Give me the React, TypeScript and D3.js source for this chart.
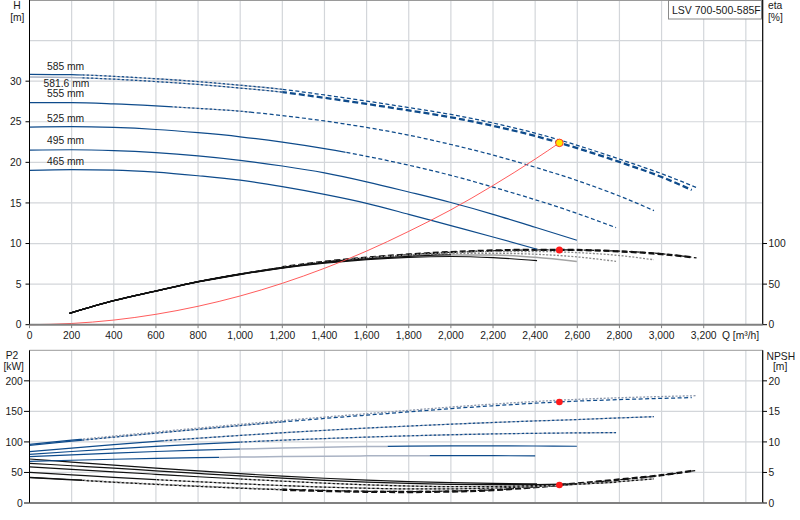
import React from 'react';
import * as d3 from 'd3';

type Pt = [number, number];
type Kind = 'solid' | 'light' | 'dotted' | 'dashed' | 'thick' | 'grayDot';

const modelName = 'LSV 700-500-585F';
const diameterLabels = ['585 mm', '581.6 mm', '555 mm', '525 mm', '495 mm', '465 mm'];

// Head H [m] vs Q [m3/h]
const head585: Pt[] = [[0,30.85],[200,30.8],[400,30.6],[600,30.3],[800,29.95],[1000,29.5],[1200,29.0],[1400,28.3],[1600,27.55],[1800,26.75],[2000,25.9],[2200,24.85],[2400,23.6],[2600,22.1],[2800,20.4],[3000,18.6],[3166,16.9]];
const head5816: Pt[] = [[0,30.5],[200,30.45],[400,30.25],[600,29.95],[800,29.6],[1000,29.15],[1200,28.65],[1400,27.95],[1600,27.2],[1800,26.4],[2000,25.55],[2200,24.5],[2400,23.25],[2600,21.75],[2800,20.05],[3000,18.2],[3143,16.6]];
const head555: Pt[] = [[0,27.35],[200,27.35],[400,27.2],[600,26.95],[800,26.65],[1000,26.3],[1200,25.75],[1400,25.1],[1600,24.3],[1800,23.35],[2000,22.2],[2200,20.9],[2400,19.4],[2600,17.75],[2800,15.85],[2964,14.05]];
const head525: Pt[] = [[0,24.35],[200,24.4],[400,24.3],[600,24.05],[800,23.65],[1000,23.15],[1200,22.5],[1400,21.7],[1600,20.75],[1800,19.65],[2000,18.4],[2200,16.95],[2400,15.4],[2600,13.7],[2784,11.95]];
const head495: Pt[] = [[0,21.5],[200,21.55],[400,21.45],[600,21.2],[800,20.8],[1000,20.25],[1200,19.55],[1400,18.7],[1600,17.6],[1800,16.35],[2000,15.05],[2200,13.6],[2400,12.0],[2598,10.4]];
const head465: Pt[] = [[0,19.0],[200,19.1],[400,19.05],[600,18.8],[800,18.35],[1000,17.8],[1200,17.0],[1400,16.05],[1600,14.95],[1800,13.6],[2000,12.2],[2200,10.8],[2409,9.3]];

// Efficiency eta [%]
const eta585: Pt[] = [[190,14],[400,29.6],[600,41.5],[800,53],[1000,62.4],[1200,70.6],[1400,77.3],[1600,82.4],[1800,86.3],[2000,89.2],[2200,91.1],[2400,92.1],[2600,92.0],[2800,90.6],[3000,87.4],[3166,82.3]];
const eta5816: Pt[] = [[190,14.2],[400,29.8],[600,41.7],[800,53.2],[1000,62.6],[1200,70.8],[1400,77.5],[1600,82.6],[1800,86.5],[2000,89.5],[2200,91.4],[2400,92.3],[2515,92.3],[2600,92.1],[2800,90.3],[3000,87.0],[3143,83.0]];
const eta555: Pt[] = [[190,14],[400,29.6],[600,41.5],[800,53],[1000,62.4],[1200,70.6],[1400,77.2],[1600,82.2],[1800,85.9],[2000,88.5],[2200,90.0],[2400,90.2],[2600,88.8],[2800,85.2],[2964,80.0]];
const eta525: Pt[] = [[190,14],[400,29.6],[600,41.5],[800,53],[1000,62.3],[1200,70.4],[1400,76.9],[1600,81.8],[1800,85.2],[2000,87.3],[2200,87.9],[2400,86.8],[2600,83.5],[2784,78.0]];
const eta495: Pt[] = [[190,14],[400,29.6],[600,41.4],[800,52.8],[1000,62.1],[1200,70.1],[1400,76.4],[1600,81.1],[1800,84.2],[2000,85.9],[2200,85.8],[2400,83.0],[2598,77.8]];
const eta465: Pt[] = [[190,14],[400,29.5],[600,41.3],[800,52.6],[1000,61.8],[1200,69.6],[1400,75.7],[1600,80.2],[1800,83.0],[2000,84.0],[2200,82.6],[2409,79.0]];

// Shaft power P2 [kW]
const p2585: Pt[] = [[0,96],[200,102.9],[400,109.6],[600,116.2],[800,122.6],[1000,128.9],[1200,134.9],[1400,140.7],[1600,146.2],[1800,151.7],[2000,157.1],[2200,161.9],[2400,166.2],[2600,169.7],[2800,172.3],[3000,174.3],[3166,175.7]];
const p25816: Pt[] = [[0,94.5],[200,101.2],[400,107.8],[600,114.3],[800,120.6],[1000,126.8],[1200,132.7],[1400,138.4],[1600,143.8],[1800,149.2],[2000,154.5],[2200,159.2],[2400,163.4],[2600,166.8],[2800,169.3],[3000,171.3],[3143,172.5]];
const p2555: Pt[] = [[0,84],[200,90],[400,95.7],[600,101],[800,106],[1000,110.6],[1200,115],[1400,119],[1600,122.7],[1800,126],[2000,129],[2200,131.8],[2400,134.3],[2600,136.6],[2800,139.3],[2964,141.3]];
const p2525: Pt[] = [[0,79.6],[200,84.3],[400,88.6],[600,92.6],[800,96.3],[1000,99.7],[1200,102.8],[1400,105.5],[1600,107.9],[1800,110],[2000,111.7],[2200,113.1],[2400,114.1],[2600,114.8],[2784,115.2]];
const p2495: Pt[] = [[0,75.8],[200,78.9],[400,81.8],[600,84.3],[800,86.5],[1000,88.4],[1200,90],[1400,91.3],[1600,92.3],[1800,93],[2000,93.4],[2200,93.5],[2400,93.3],[2598,92.9]];
const p2465: Pt[] = [[0,68],[200,70],[400,71.6],[600,73],[800,74.2],[1000,75.2],[1200,76],[1400,76.7],[1600,77.2],[1800,77.5],[2000,77.6],[2200,77.5],[2400,77.2]];

// NPSH [m]
const npsh585: Pt[] = [[0,4.2],[200,3.85],[400,3.45],[600,3.1],[800,2.8],[1000,2.5],[1200,2.25],[1400,2.05],[1600,1.92],[1800,1.88],[2000,1.95],[2200,2.15],[2400,2.6],[2600,3.15],[2800,3.8],[3000,4.55],[3166,5.35]];
const npsh5816: Pt[] = [[0,4.15],[200,3.8],[400,3.4],[600,3.05],[800,2.72],[1000,2.42],[1200,2.17],[1400,1.97],[1600,1.84],[1800,1.8],[2000,1.88],[2200,2.1],[2400,2.6],[2600,3.2],[2800,3.85],[3000,4.55],[3143,5.25]];
const npsh555: Pt[] = [[0,5.0],[200,4.6],[400,4.2],[600,3.82],[800,3.48],[1000,3.15],[1200,2.86],[1400,2.6],[1600,2.42],[1800,2.32],[2000,2.32],[2200,2.45],[2400,2.7],[2600,3.05],[2800,3.5],[2964,3.95]];
const npsh525: Pt[] = [[0,5.9],[200,5.5],[400,5.1],[600,4.7],[800,4.3],[1000,3.93],[1200,3.58],[1400,3.25],[1600,2.98],[1800,2.78],[2000,2.68],[2200,2.7],[2400,2.85],[2600,3.1],[2784,3.4]];
const npsh495: Pt[] = [[0,6.5],[200,6.1],[400,5.7],[600,5.27],[800,4.85],[1000,4.44],[1200,4.06],[1400,3.72],[1600,3.42],[1800,3.2],[2000,3.05],[2200,3.0],[2400,3.02],[2598,3.12]];
const npsh465: Pt[] = [[0,7.2],[200,6.7],[400,6.2],[600,5.72],[800,5.25],[1000,4.8],[1200,4.4],[1400,4.05],[1600,3.75],[1800,3.5],[2000,3.32],[2200,3.2],[2409,3.15]];

// System curve H [m]
const systemCurve: Pt[] = [[0,0],[200,0.15],[400,0.57],[600,1.28],[800,2.27],[1000,3.54],[1200,5.1],[1400,6.95],[1600,9.07],[1800,11.5],[2000,14.15],[2200,17.15],[2400,20.4],[2515,22.4]];

// Duty point
const dutyQ = 2515;
const dutyH = 22.4;
const dutyEta = 92;
const dutyP2 = 165.4;
const dutyNpsh = 2.95;

const qTicks = [0,200,400,600,800,1000,1200,1400,1600,1800,2000,2200,2400,2600,2800,3000,3200];
const qGrid = [200,400,600,800,1000,1200,1400,1600,1800,2000,2200,2400,2600,2800,3000,3200,3400];
const hTicks = [0,5,10,15,20,25,30];
const hGrid = [5,10,15,20,25,30,35];
const etaTicks = [0,50,100];
const p2Ticks = [0,50,100,150,200];
const npshTicks = [0,5,10,15,20];

const headCurves = [head585, head5816, head555, head525, head495, head465];
const etaCurves = [eta585, eta5816, eta555, eta525, eta495, eta465];
const p2Curves = [p2585, p25816, p2555, p2525, p2495, p2465];
const npshCurves = [npsh585, npsh5816, npsh555, npsh525, npsh495, npsh465];

// style segments: [end Q, kind]
const INF = 99999;
const headSegs: [number, Kind][][] = [
  [[250,'solid'],[1200,'dotted'],[INF,'dashed']],
  [[250,'light'],[1200,'dotted'],[INF,'thick']],
  [[680,'solid'],[1050,'dotted'],[INF,'dashed']],
  [[1500,'solid'],[INF,'dashed']],
  [[INF,'solid']],
  [[INF,'solid']],
];
const etaSegs: [number, Kind][][] = [
  [[1200,'solid'],[INF,'dashed']],
  [[1200,'solid'],[INF,'thick']],
  [[1000,'solid'],[INF,'grayDot']],
  [[1500,'solid'],[INF,'grayDot']],
  [[2000,'solid'],[INF,'light']],
  [[INF,'solid']],
];
const p2Segs: [number, Kind][][] = [
  [[250,'solid'],[INF,'grayDot']],
  [[250,'solid'],[1200,'dotted'],[INF,'dashed']],
  [[640,'solid'],[INF,'dotted']],
  [[1000,'solid'],[INF,'dotted']],
  [[1000,'solid'],[1700,'light'],[INF,'solid']],
  [[900,'solid'],[1900,'light'],[INF,'solid']],
];
const npshSegs: [number, Kind][][] = [
  [[250,'solid'],[1200,'grayDot'],[INF,'dashed']],
  [[250,'solid'],[1200,'dotted'],[INF,'thick']],
  [[600,'solid'],[INF,'dotted']],
  [[1000,'solid'],[INF,'dotted']],
  [[INF,'solid']],
  [[INF,'solid']],
];

const labelDx = [47, 43.5, 47, 47, 47, 47];
const labelDy = [-4.5, 9.5, -5.5, -5.5, -5.8, -5.8];

const W = 800, H = 520;
const X0 = 29.5, X1 = 762.7;
const TOP0 = 0, TOP1 = 324.7;
const BOT0 = 350.3, BOT1 = 503;

const FONT = '"Liberation Sans", Arial, sans-serif';
const TXT = '#1a1a1a';

const x = d3.scaleLinear().domain([0, 3480]).range([X0, X1]);
const yH = d3.scaleLinear().domain([0, 40]).range([TOP1, TOP0]);
const yEta = d3.scaleLinear().domain([0, 400]).range([TOP1, TOP0]);
const yP = d3.scaleLinear().domain([0, 250]).range([BOT1, BOT0]);
const yN = d3.scaleLinear().domain([0, 25]).range([BOT1, BOT0]);

const BLUE = { main: '#0e4b8b', light: '#aab3c4', dot: '#8e99ad' };
const BLACK = { main: '#111111', light: '#a3a3a3', dot: '#8a8a8a' };

function Curve({ id, data, y, segs, fam }: { id: string; data: Pt[]; y: d3.ScaleLinear<number, number>; segs: [number, Kind][]; fam: typeof BLUE }) {
  const line = d3.line<Pt>().x(d => x(d[0])).y(d => y(d[1])).curve(d3.curveMonotoneX);
  const d = line(data) || '';
  let start = -100;
  return (
    <g>
      {segs.map(([end, kind], i) => {
        const xa = start <= 0 ? 0 : x(start);
        const xb = end >= INF ? W : x(end);
        start = end;
        const cid = `${id}-c${i}`;
        const clip = `url(#${cid})`;
        const els: React.ReactNode[] = [];
        if (kind === 'solid') els.push(<path key="a" d={d} fill="none" stroke={fam.main} strokeWidth={1.2} />);
        if (kind === 'light') els.push(<path key="a" d={d} fill="none" stroke={fam.light} strokeWidth={1.5} />);
        if (kind === 'dotted') {
          els.push(<path key="a" d={d} fill="none" stroke={fam.light} strokeWidth={1.3} />);
          els.push(<path key="b" d={d} fill="none" stroke={fam.main} strokeWidth={1.2} strokeDasharray="2.2,2.2" />);
        }
        if (kind === 'dashed') els.push(<path key="a" d={d} fill="none" stroke={fam.main} strokeWidth={1.25} strokeDasharray="4,2.5" />);
        if (kind === 'thick') els.push(<path key="a" d={d} fill="none" stroke={fam.main} strokeWidth={2.3} strokeDasharray="6,3" />);
        if (kind === 'grayDot') els.push(<path key="a" d={d} fill="none" stroke={fam.dot} strokeWidth={1.3} strokeDasharray="2,1.6" />);
        return (
          <g key={i}>
            <clipPath id={cid}><rect x={xa} y={-10} width={Math.max(0, xb - xa)} height={H + 20} /></clipPath>
            <g clipPath={clip}>{els}</g>
          </g>
        );
      })}
    </g>
  );
}

export default function App() {
  const fmt = d3.format(',');
  const sysLine = d3.line<Pt>().x(d => x(d[0])).y(d => yH(d[1])).curve(d3.curveMonotoneX);
  return (
    <svg width={W} height={H} style={{ position: 'fixed', left: 0, top: 0, background: '#fff' }} fontFamily={FONT}>
      <rect x={0} y={0} width={W} height={H} fill="#fff" />
      {/* grids */}
      <g stroke="#d3d6da" strokeWidth={1.2}>
        {qGrid.map(q => <line key={'tg' + q} x1={x(q)} x2={x(q)} y1={TOP0} y2={TOP1} />)}
        {hGrid.map(h => <line key={'hg' + h} x1={X0} x2={X1} y1={yH(h)} y2={yH(h)} />)}
        {qGrid.map(q => <line key={'bg' + q} x1={x(q)} x2={x(q)} y1={BOT0} y2={BOT1} />)}
        {p2Ticks.filter(p => p > 0).map(p => <line key={'pg' + p} x1={X0} x2={X1} y1={yP(p)} y2={yP(p)} />)}
      </g>
      {/* frames */}
      <line x1={X0} x2={X1} y1={0.5} y2={0.5} stroke="#9a9a9a" strokeWidth={1} />
      <line x1={X0} x2={X1} y1={BOT0} y2={BOT0} stroke="#9a9a9a" strokeWidth={1} />

      {/* legend box */}
      <rect x={668.5} y={0.5} width={93} height={18.5} fill="#fff" stroke="#8a8a8a" strokeWidth={1} />
      <text x={672} y={14} fontSize={10.5} fill={TXT}>{modelName}</text>

      {/* top panel curves */}
      {etaCurves.map((c, i) => <Curve key={'e' + i} id={'e' + i} data={c} y={yEta} segs={etaSegs[i]} fam={BLACK} />)}
      {headCurves.map((c, i) => <Curve key={'h' + i} id={'h' + i} data={c} y={yH} segs={headSegs[i]} fam={BLUE} />)}
      <path d={sysLine(systemCurve) || ''} fill="none" stroke="#ff4a4a" strokeWidth={0.9} />

      {/* bottom panel curves */}
      {npshCurves.map((c, i) => <Curve key={'n' + i} id={'n' + i} data={c} y={yN} segs={npshSegs[i]} fam={BLACK} />)}
      {p2Curves.map((c, i) => <Curve key={'p' + i} id={'p' + i} data={c} y={yP} segs={p2Segs[i]} fam={BLUE} />)}

      {/* duty points */}
      <circle cx={x(dutyQ)} cy={yH(dutyH)} r={3.8} fill="#ffe600" stroke="#ff3a2a" strokeWidth={1} />
      <circle cx={x(dutyQ)} cy={yEta(dutyEta)} r={3.5} fill="#ff1a1a" />
      <circle cx={x(dutyQ)} cy={yP(dutyP2)} r={3.3} fill="#ff1a1a" />
      <circle cx={x(dutyQ)} cy={yN(dutyNpsh)} r={3.3} fill="#ff1a1a" />

      {/* diameter labels */}
      {diameterLabels.map((t, i) => (
        <text key={t} x={labelDx[i]} y={yH(headCurves[i][0][1]) + labelDy[i]} fontSize={10.3} fill={TXT}>{t}</text>
      ))}

      {/* axes top */}
      <line x1={X0} x2={X0} y1={0} y2={TOP1} stroke="#000" strokeWidth={1} />
      <line x1={X1} x2={X1} y1={0} y2={TOP1} stroke="#000" strokeWidth={1.2} />
      <line x1={X0} x2={X1} y1={TOP1} y2={TOP1} stroke="#808080" strokeWidth={2} />
      {hTicks.map(h => (
        <g key={'ht' + h}>
          <line x1={25.5} x2={X0} y1={yH(h)} y2={yH(h)} stroke="#000" />
          <text x={21.5} y={yH(h) + 3.7} textAnchor="end" fontSize={10.3} fill={TXT}>{h}</text>
        </g>
      ))}
      {etaTicks.map(e => (
        <g key={'et' + e}>
          <line x1={X1} x2={767} y1={yEta(e)} y2={yEta(e)} stroke="#000" />
          <text x={768.5} y={yEta(e) + 3.7} fontSize={10.3} fill={TXT}>{e}</text>
        </g>
      ))}
      {qTicks.map(q => (
        <g key={'qt' + q}>
          <line x1={x(q)} x2={x(q)} y1={TOP1} y2={TOP1 + 3.5} stroke="#808080" />
          <text x={x(q)} y={339} textAnchor="middle" fontSize={10.3} fill={TXT}>{fmt(q)}</text>
        </g>
      ))}
      <text x={722} y={339} fontSize={10.3} fill={TXT}>Q [m³/h]</text>
      <text x={17} y={9} textAnchor="middle" fontSize={10.3} fill={TXT}>H</text>
      <text x={17.3} y={20.5} textAnchor="middle" fontSize={10.3} fill={TXT}>[m]</text>
      <text x={768} y={9} fontSize={10.3} fill={TXT}>eta</text>
      <text x={768} y={20.5} fontSize={10.3} fill={TXT}>[%]</text>

      {/* axes bottom */}
      <line x1={X0} x2={X0} y1={BOT0} y2={BOT1} stroke="#000" strokeWidth={1} />
      <line x1={X1} x2={X1} y1={BOT0} y2={BOT1} stroke="#000" strokeWidth={1.2} />
      <line x1={X0} x2={X1} y1={BOT1} y2={BOT1} stroke="#808080" strokeWidth={2} />
      {p2Ticks.map(p => (
        <g key={'pt' + p}>
          <line x1={24} x2={X0} y1={yP(p)} y2={yP(p)} stroke="#000" />
          <text x={22.7} y={yP(p) + 3.7} textAnchor="end" fontSize={10.3} fill={TXT}>{p}</text>
        </g>
      ))}
      {npshTicks.map(n => (
        <g key={'nt' + n}>
          <line x1={X1} x2={767} y1={yN(n)} y2={yN(n)} stroke="#000" />
          <text x={768.5} y={yN(n) + 3.7} fontSize={10.3} fill={TXT}>{n}</text>
        </g>
      ))}
      <text x={12} y={359} textAnchor="middle" fontSize={10.3} fill={TXT}>P2</text>
      <text x={13.7} y={370} textAnchor="middle" fontSize={10.3} fill={TXT}>[kW]</text>
      <text x={766.5} y={359.5} fontSize={10.3} fill={TXT}>NPSH</text>
      <text x={773} y={370} fontSize={10.3} fill={TXT}>[m]</text>
    </svg>
  );
}
